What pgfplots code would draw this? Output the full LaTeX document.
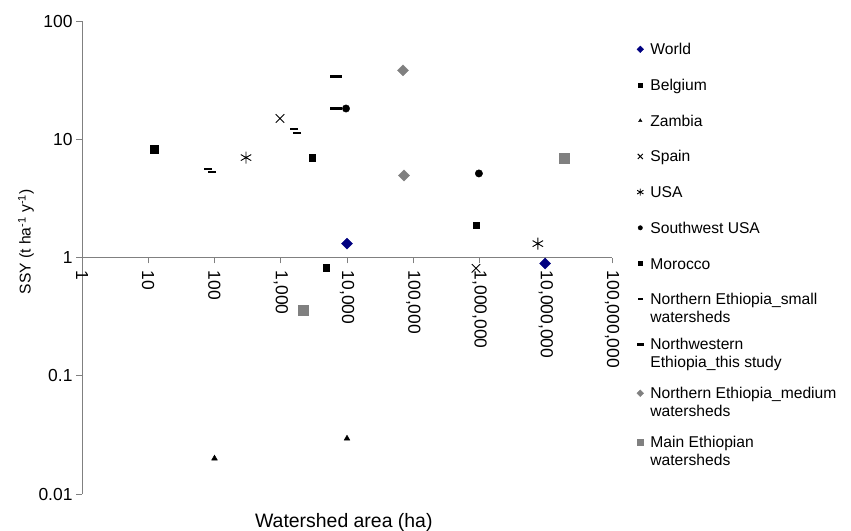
\documentclass[border=0pt]{standalone}
\usepackage{fontspec}
\setmainfont{Liberation Sans}
\usepackage{pgfplots}
\pgfplotsset{compat=1.18}
\definecolor{navyw}{RGB}{0,0,128}
\definecolor{medgray}{RGB}{128,128,128}
\definecolor{axgray}{RGB}{128,128,128}
\newcommand{\two}[2]{\begin{tabular}[t]{@{}l@{}}#1\\#2\end{tabular}}
\begin{document}
\begin{tikzpicture}
\useasboundingbox (-82bp,-37bp) rectangle (769bp,494bp);
\begin{axis}[
  at={(0,0)}, anchor=south west,
  scale only axis, width=530bp, height=473bp,
  xmode=log, ymode=log,
  xmin=1, xmax=1e8, ymin=0.01, ymax=100,
  axis y line=left, axis x line=middle,
  axis line style={-, draw=axgray, line width=1bp},
  hide obscured x ticks=false, hide obscured y ticks=false,
  xtick={1,10,100,1000,10000,100000,1000000,10000000,100000000},
  xticklabels={1,10,100,{1,000},{10,000},{100,000},{1,000,000},{10,000,000},{100,000,000}},
  ytick={0.01,0.1,1,10,100},
  yticklabels={0.01,0.1,1,10,100},
  xminorticks=false, yminorticks=false,
  tick align=outside, xtick align=outside, major tick length=6bp,
  tick style={draw=axgray, line width=1bp},
  ticklabel style={font=\fontsize{17.5}{20}\selectfont},
  xticklabel style={rotate=-90, anchor=west},
  xticklabel shift=4bp,
  xlabel={Watershed area (ha)},
  ylabel={SSY (t ha\textsuperscript{-1} y\textsuperscript{-1})},
  xlabel style={at={(axis description cs:0.494,-0.0698)}, anchor=base, font=\fontsize{19.5}{22}\selectfont},
  ylabel style={at={(axis description cs:-0.1057,0.533)}, anchor=center, rotate=0, font=\fontsize{15.7}{18}\selectfont},
  clip=false,
  legend style={at={(axis description cs:1.0462,0.967)}, anchor=north west, draw=none, fill=none,
    inner sep=0pt, row sep=0pt, column sep=0pt, font=\fontsize{15.7}{18}\selectfont,
    nodes={inner xsep=6.5bp, inner ysep=0pt, text height=18bp, text depth=17.7bp, anchor=base west}},
  every legend image post/.append style={yshift=5.5bp, /tikz/every mark/.append style={scale=0.6}},
]
% World
\addplot[only marks, mark=square*, mark size=3.9bp, mark options={rotate=45, draw=navyw, fill=navyw}]
 coordinates {(10000,1.31) (9.8e6,0.89)};
\addlegendentry{World}
% Belgium
\addplot[only marks, mark=square*, mark size=3.8bp, mark options={draw=black, fill=black}]
 coordinates {(12.2,8.2)};
\addlegendentry{Belgium}
% Zambia
\addplot[only marks, mark=triangle*, mark size=3.3bp, mark options={draw=black, fill=black}]
 coordinates {(100,0.020) (10000,0.0295)};
\addlegendentry{Zambia}
% Spain
\addplot[only marks, mark=x, mark size=6bp, mark options={draw=black, line width=0.9bp}]
 coordinates {(974,15.0) (885000,0.81)};
\addlegendentry{Spain}
% USA
\addplot[only marks, mark=asterisk, mark size=6bp, mark options={draw=black, line width=0.9bp}]
 coordinates {(299,7.0) (7.6e6,1.31)};
\addlegendentry{USA}
% Southwest USA
\addplot[only marks, mark=*, mark size=3.7bp, mark options={draw=black, fill=black}]
 coordinates {(9660,18.2) (980000,5.14)};
\addlegendentry{Southwest USA}
% Morocco
\addplot[only marks, mark=square*, mark size=3.2bp, mark options={draw=black, fill=black}]
 coordinates {(2960,7.0) (4820,0.82) (885000,1.87)};
\addlegendentry{Morocco}
% Northern Ethiopia small
\addplot[only marks, mark=-, mark size=4bp, mark options={draw=black, line width=2bp}]
 coordinates {(80,5.55) (92,5.24) (1585,12.1) (1760,11.4)};
\addlegendentry[text depth=27bp]{\two{Northern Ethiopia\_small}{watersheds}}
% Northwestern Ethiopia this study
\addplot[only marks, mark=-, mark size=6bp, mark options={draw=black, line width=3bp}]
 coordinates {(6820,34.2) (6820,18.2)};
\addlegendentry[text depth=31bp]{\two{Northwestern}{Ethiopia\_this study}}
% Northern Ethiopia medium
\addplot[only marks, mark=square*, mark size=3.9bp, mark options={rotate=45, draw=medgray, fill=medgray}]
 coordinates {(70000,38.2) (72500,4.94)};
\addlegendentry[text depth=31bp]{\two{Northern Ethiopia\_medium}{watersheds}}
% Main Ethiopian
\addplot[only marks, mark=square*, mark size=5bp, mark options={draw=medgray, fill=medgray}]
 coordinates {(2220,0.356) (1.88e7,6.88)};
\addlegendentry[text depth=31bp]{\two{Main Ethiopian}{watersheds}}
\end{axis}
\end{tikzpicture}
\end{document}
